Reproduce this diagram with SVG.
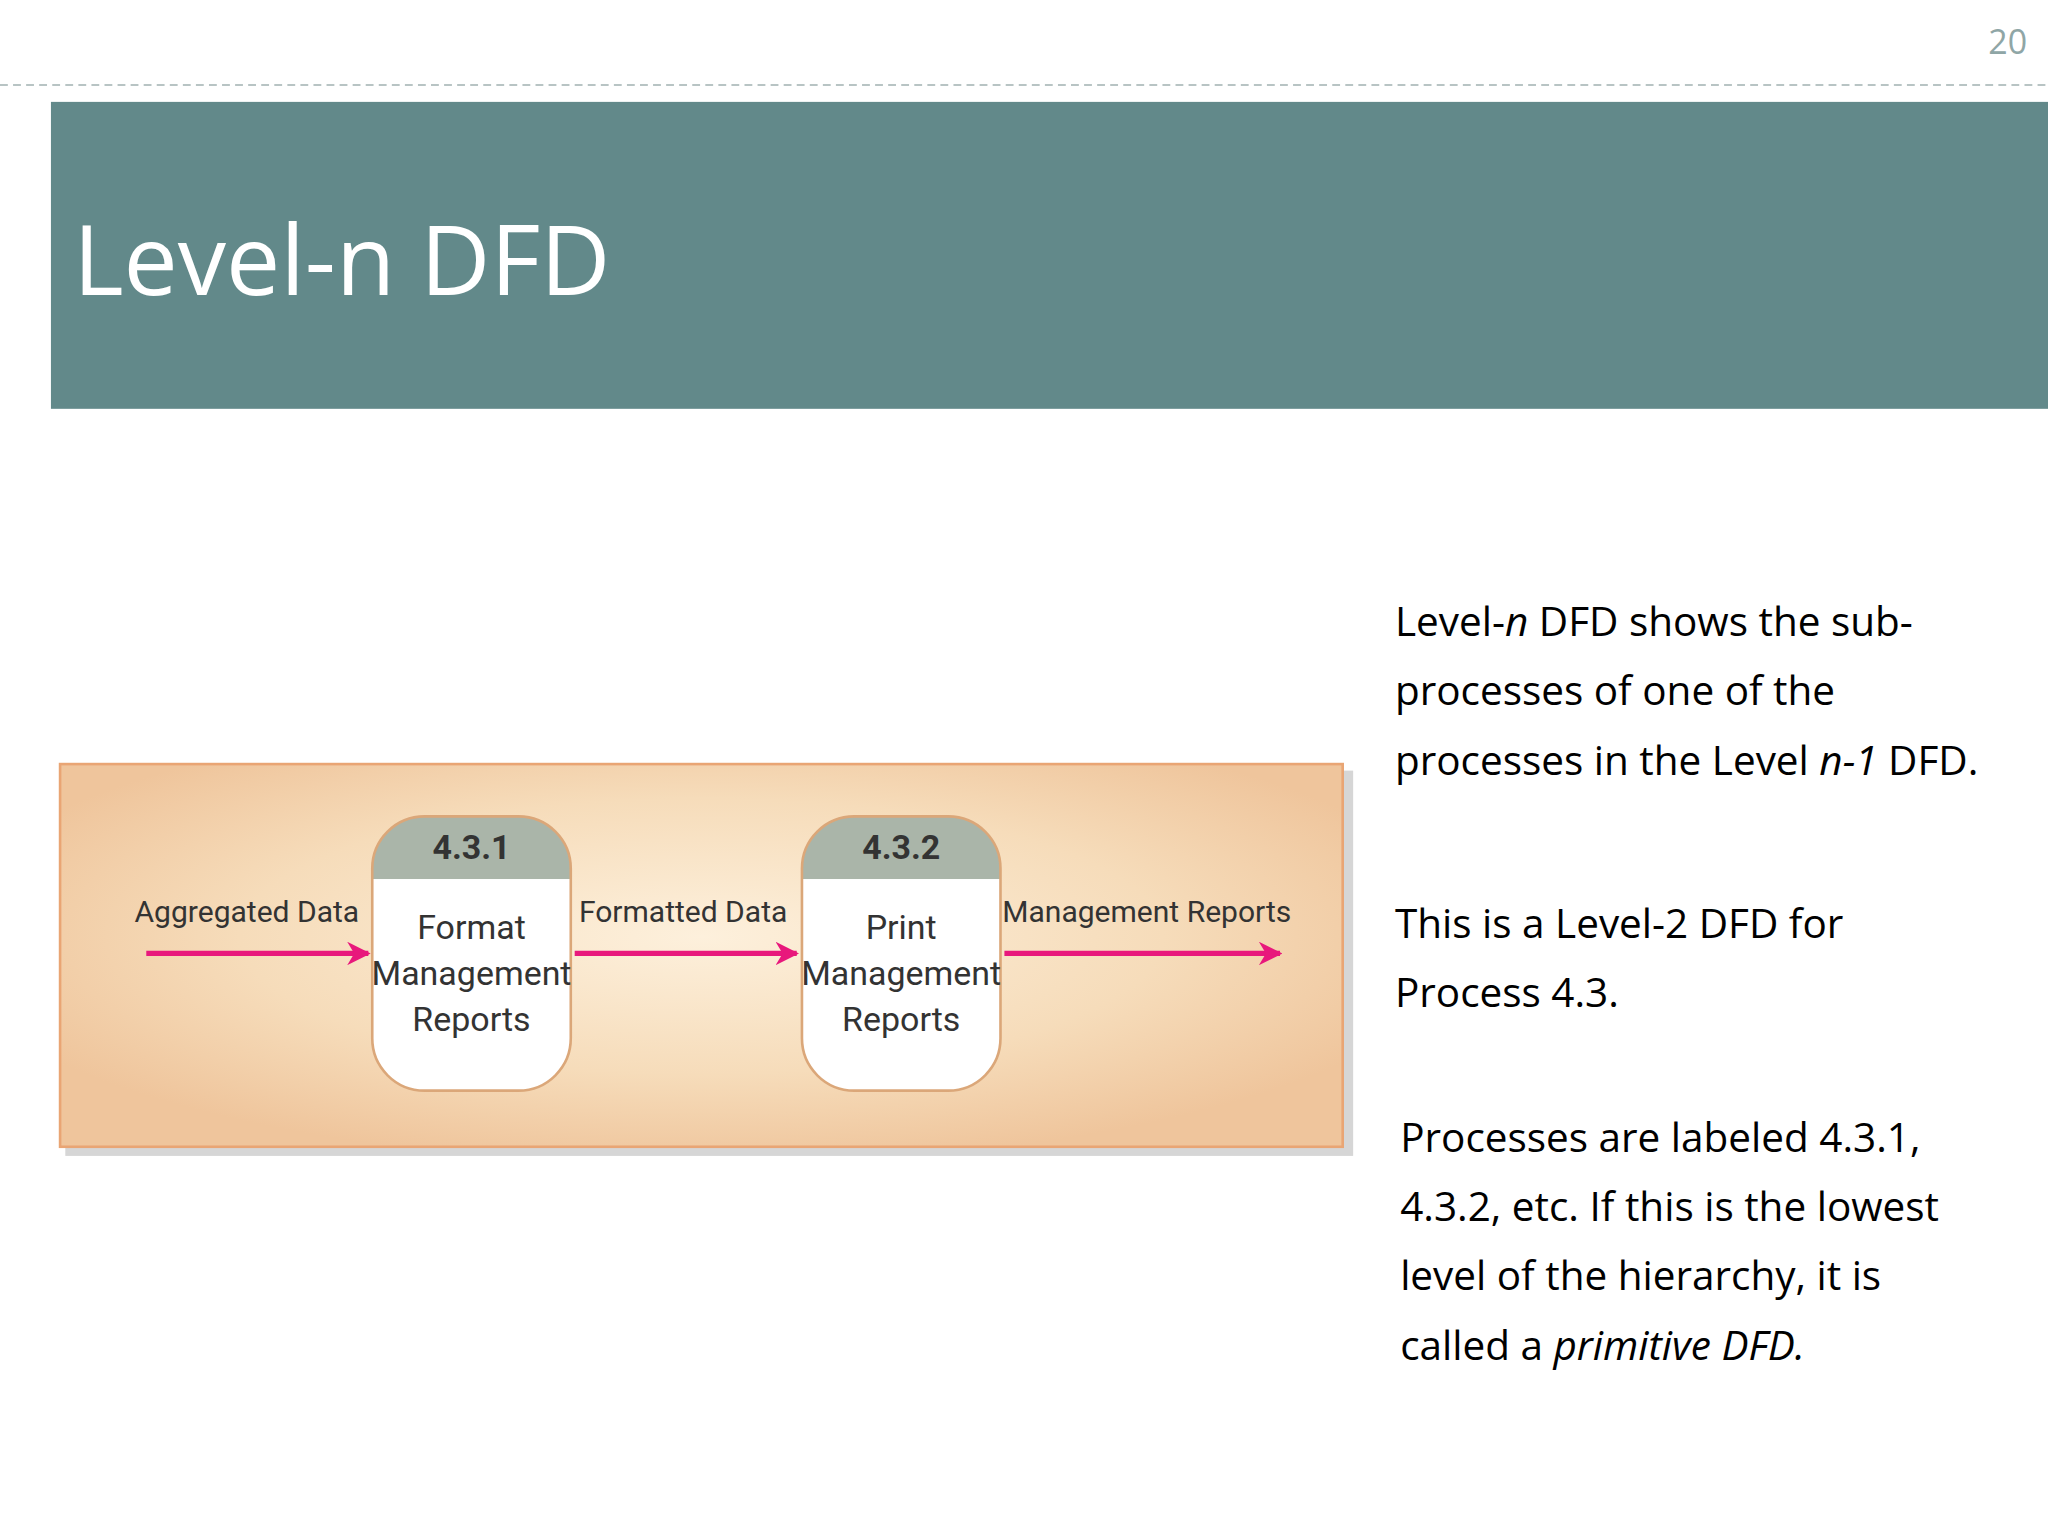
<svg xmlns="http://www.w3.org/2000/svg" width="2048" height="1536" viewBox="0 0 2048 1536">
<defs>
<radialGradient id="bg" cx="0.5" cy="0.45" r="0.6">
<stop offset="0" stop-color="#fdf0dc"/><stop offset="0.6" stop-color="#f6dcba"/><stop offset="1" stop-color="#efc59c"/>
</radialGradient>
<marker id="ah" viewBox="0 0 10 10" refX="9" refY="5" markerWidth="4.5" markerHeight="4.5" orient="auto" markerUnits="strokeWidth"><path d="M0,0 L10,5 L0,10 L3,5 z" fill="#e8187c"/></marker>
<clipPath id="c1"><rect x="285" y="625" width="152" height="210" rx="40"/></clipPath>
<clipPath id="c2"><rect x="614" y="625" width="152" height="210" rx="40"/></clipPath>
</defs>
<style>
.t{font-family:"Open Sans","Noto Sans",sans-serif;fill:#000;font-size:31px}
.l{font-family:"Roboto","Liberation Sans",sans-serif;fill:#333;font-size:23px;text-anchor:middle}
.p{font-family:"Roboto","Liberation Sans",sans-serif;fill:#333;font-size:26px;text-anchor:middle}
.a{stroke:#e8187c;stroke-width:4;fill:none;marker-end:url(#ah)}
</style>
<rect width="2048" height="1536" fill="#fff"/>
<g transform="scale(1.30612)">
<text x="1552" y="41" font-family="Open Sans,sans-serif" font-size="26" fill="#8fa6a6" text-anchor="end">20</text>
<line x1="0" y1="65" x2="1568" y2="65" stroke="#b8c4c4" stroke-width="1.5" stroke-dasharray="6,4"/>
<rect x="39" y="78" width="1529" height="235" fill="#62898a"/>
<text x="56" y="226" font-family="Open Sans,Noto Sans,sans-serif" font-size="74" fill="#fff">Level-n DFD</text>
<g id="panel">
<rect x="50" y="590" width="986" height="295" fill="#d6d6d6"/>
<rect x="46" y="585" width="982" height="293" fill="url(#bg)" stroke="#e9a574" stroke-width="2"/>
</g>
<g id="p431">
<rect x="285" y="625" width="152" height="210" rx="40" fill="#fff"/>
<rect x="285" y="625" width="152" height="48" fill="#aab5a9" clip-path="url(#c1)"/>
<rect x="285" y="625" width="152" height="210" rx="40" fill="none" stroke="#dba779" stroke-width="2"/>
<text x="361" y="658" class="p" font-weight="bold" font-size="24">4.3.1</text>
<text x="361" y="719" class="p">Format</text><text x="361" y="754" class="p">Management</text><text x="361" y="789" class="p">Reports</text>
</g>
<g id="p432">
<rect x="614" y="625" width="152" height="210" rx="40" fill="#fff"/>
<rect x="614" y="625" width="152" height="48" fill="#aab5a9" clip-path="url(#c2)"/>
<rect x="614" y="625" width="152" height="210" rx="40" fill="none" stroke="#dba779" stroke-width="2"/>
<text x="690" y="658" class="p" font-weight="bold" font-size="24">4.3.2</text>
<text x="690" y="719" class="p">Print</text><text x="690" y="754" class="p">Management</text><text x="690" y="789" class="p">Reports</text>
</g>
<g id="connectors">
<line x1="112" y1="730" x2="282" y2="730" class="a"/>
<line x1="440" y1="730" x2="610" y2="730" class="a"/>
<line x1="769" y1="730" x2="980" y2="730" class="a"/>
<text x="189" y="706" class="l">Aggregated Data</text>
<text x="523" y="706" class="l">Formatted Data</text>
<text x="878" y="706" class="l">Management Reports</text>
</g>
<g id="notes">
<text x="1068" y="487" class="t">Level-<tspan font-style="italic">n</tspan> DFD shows the sub-</text>
<text x="1068" y="540" class="t">processes of one of the</text>
<text x="1068" y="593" class="t">processes in the Level <tspan font-style="italic">n-1</tspan> DFD.</text>
<text x="1068" y="718" class="t">This is a Level-2 DFD for</text>
<text x="1068" y="771" class="t">Process 4.3.</text>
<text x="1072" y="882" class="t">Processes are labeled 4.3.1,</text>
<text x="1072" y="935" class="t">4.3.2, etc. If this is the lowest</text>
<text x="1072" y="988" class="t">level of the hierarchy, it is</text>
<text x="1072" y="1041" class="t">called a <tspan font-style="italic">primitive DFD.</tspan></text>
</g>
</g>
</svg>
